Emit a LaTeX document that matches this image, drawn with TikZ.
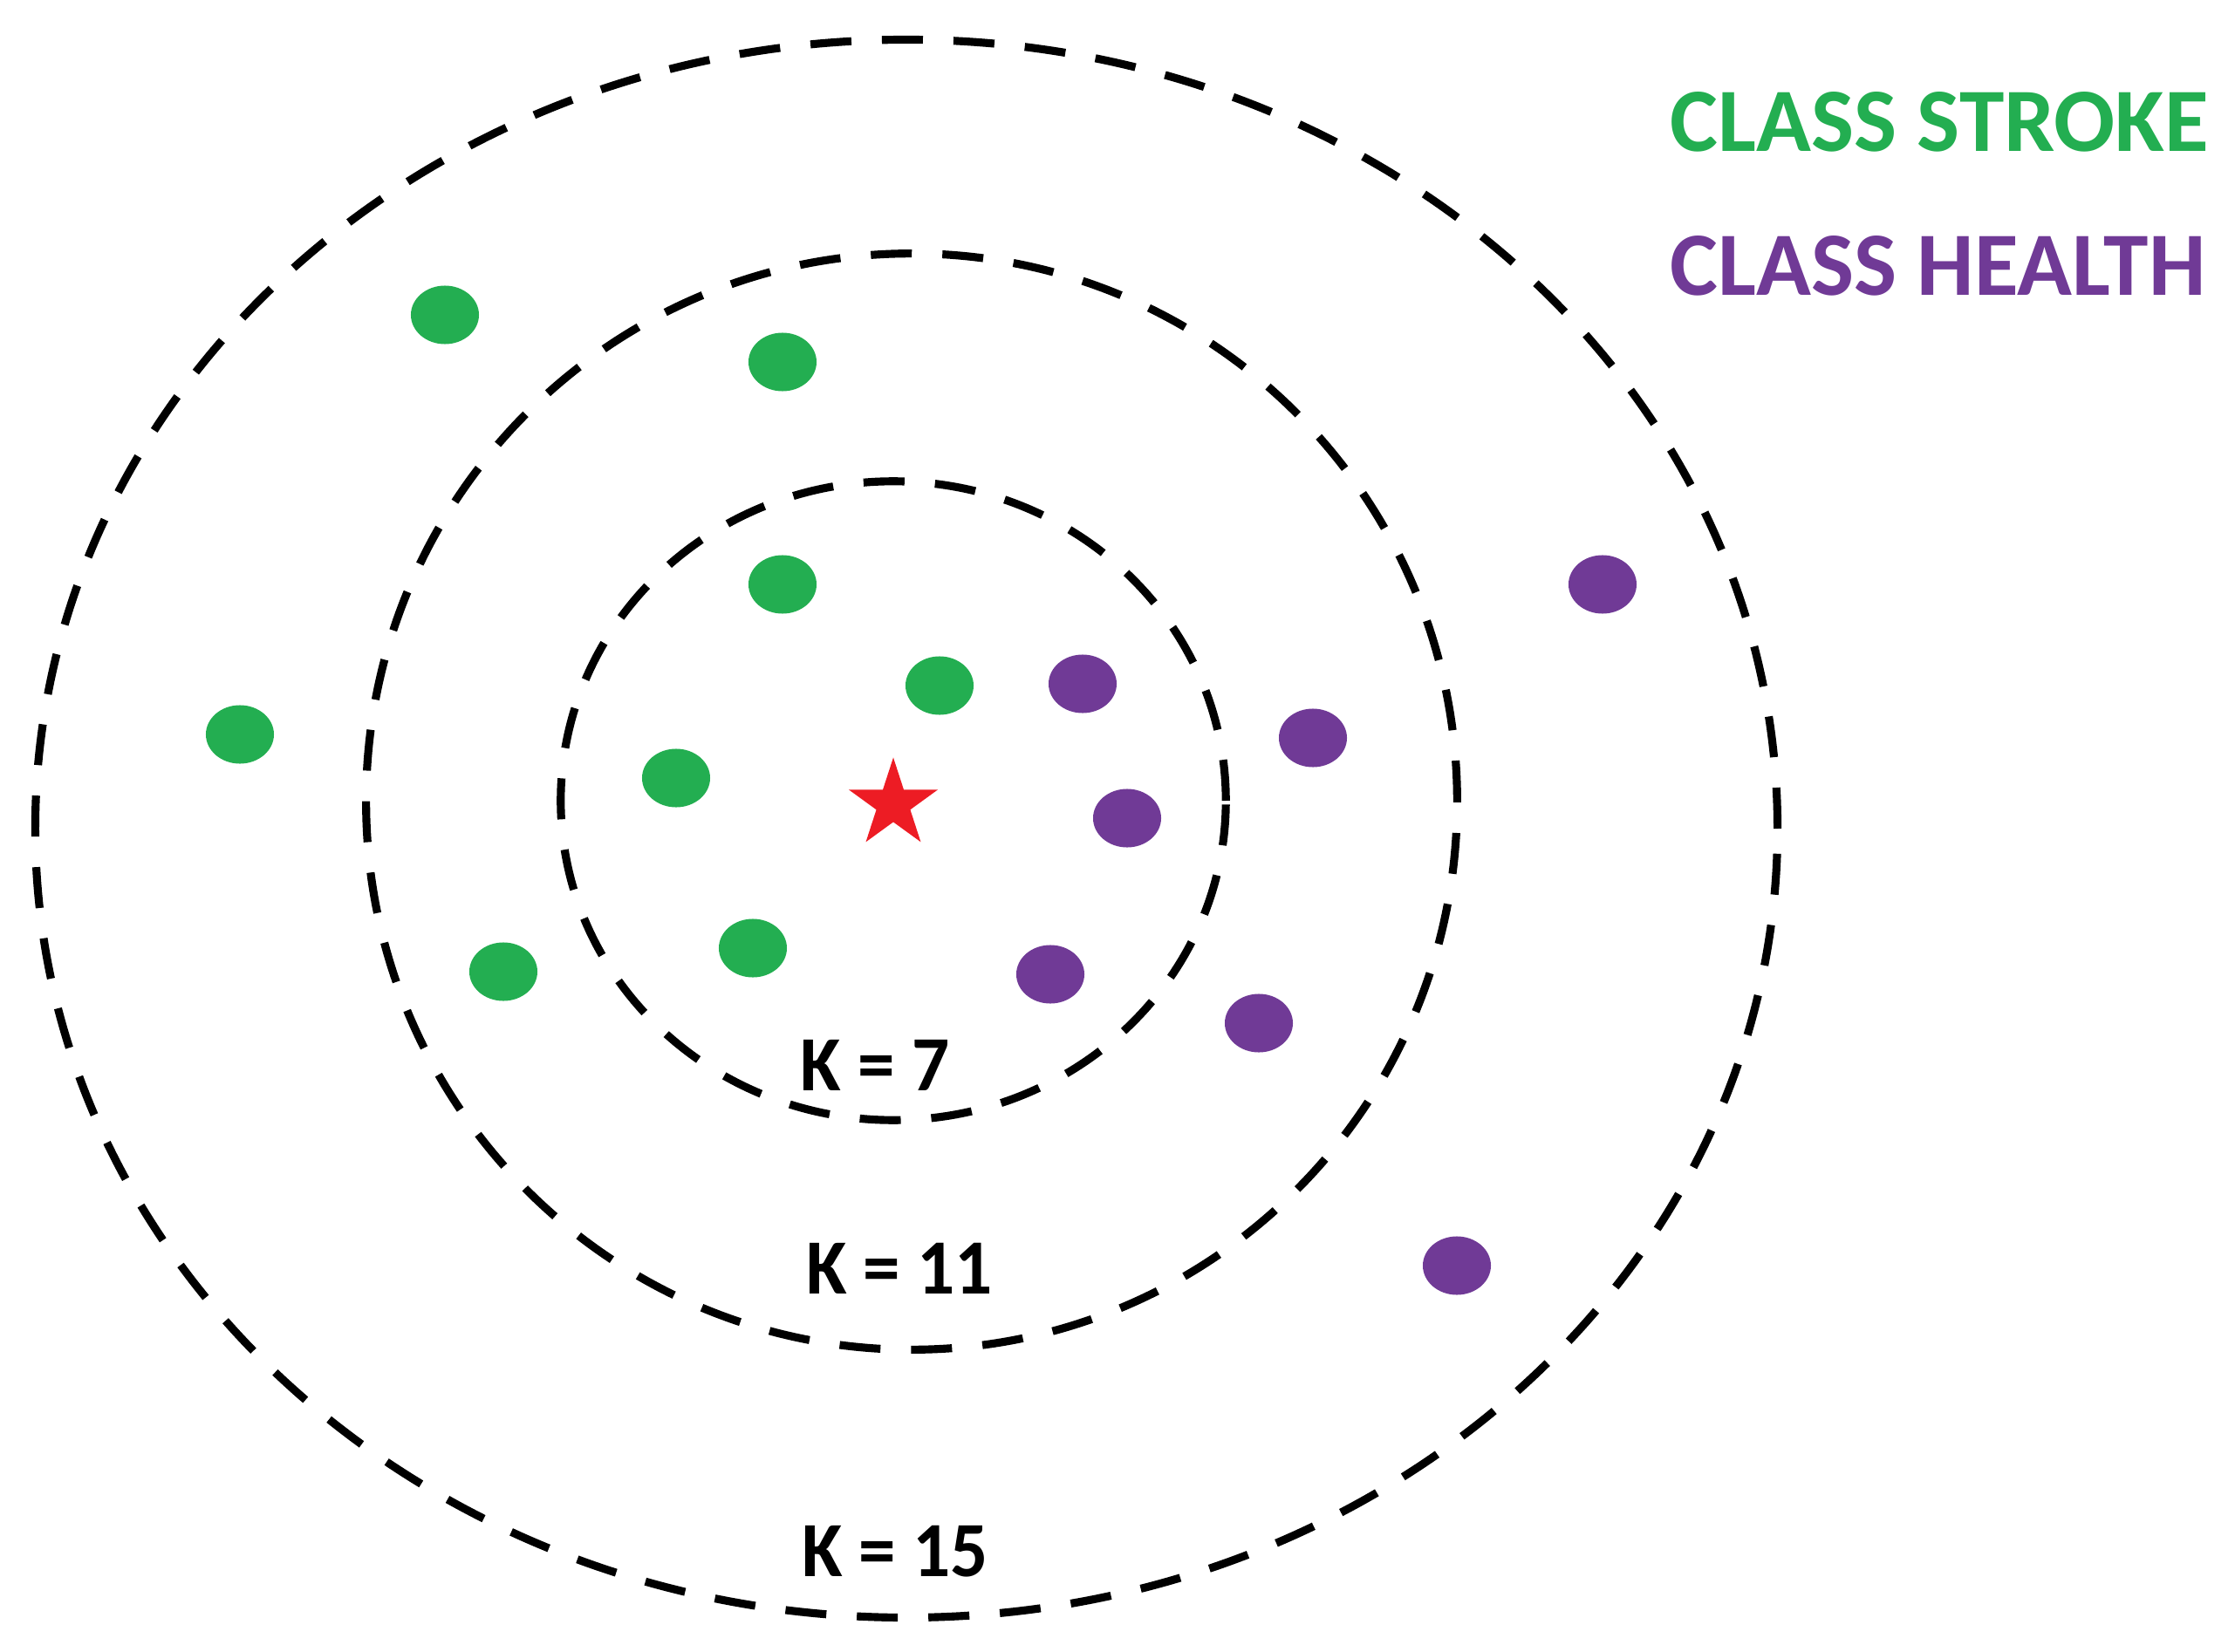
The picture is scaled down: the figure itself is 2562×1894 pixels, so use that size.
\documentclass[tikz,border=0pt]{standalone}
\usepackage{fontspec}
\usepackage{graphicx}
\setmainfont{Carlito}
\usetikzlibrary{shapes.geometric}
\definecolor{strokegreen}{RGB}{35,174,81}
\definecolor{healthpurple}{RGB}{112,58,150}
\definecolor{starred}{RGB}{237,28,36}
\tikzset{
  ring/.style={draw=black, line width=2.6pt, dash pattern=on 0.47cm off 0.35cm, ellipse, inner sep=0pt},
  gdot/.style={fill=strokegreen, ellipse, inner sep=0pt, minimum width=0.78cm, minimum height=0.67cm},
  pdot/.style={fill=healthpurple, ellipse, inner sep=0pt, minimum width=0.78cm, minimum height=0.67cm},
  klabel/.style={inner sep=0pt, font=\fontsize{25.5pt}{30pt}\selectfont\bfseries},
  legend/.style={inner sep=0pt, anchor=west, font=\fontsize{29.5pt}{34pt}\selectfont\bfseries}
}
\newcommand{\kcond}[1]{\scalebox{0.95}[1]{#1}}
\begin{document}
\begin{tikzpicture}[x=0.01cm, y=-0.01cm]
\useasboundingbox (0,0) rectangle (2562,1894);
% rings
\node[ring, minimum width=19.96cm, minimum height=18.08cm] (k15) at (1039,950) {};
\node[ring, minimum width=12.50cm, minimum height=12.56cm] (k11) at (1045,919) {};
\node[ring, minimum width=7.62cm, minimum height=7.32cm] (k7) at (1024,918) {};
% query point
\node[star, star points=5, star point ratio=2.618, fill=starred, inner sep=0pt, minimum size=1.07cm] (q) at (1024,922) {};
% green points
\node[gdot] (g1) at (510,361) {};
\node[gdot] (g2) at (897,415) {};
\node[gdot] (g3) at (897,670) {};
\node[gdot] (g4) at (1077,786) {};
\node[gdot] (g5) at (275,842) {};
\node[gdot] (g6) at (775,892) {};
\node[gdot] (g7) at (577,1114) {};
\node[gdot] (g8) at (863,1087) {};
% purple points
\node[pdot] (p1) at (1837,670) {};
\node[pdot] (p2) at (1241,784) {};
\node[pdot] (p3) at (1505,846) {};
\node[pdot] (p4) at (1292,938) {};
\node[pdot] (p5) at (1204,1117) {};
\node[pdot] (p6) at (1443,1173) {};
\node[pdot] (p7) at (1670,1451) {};
% labels
\node[klabel] (l7) at (1003,1221) {\kcond{K = 7}};
\node[klabel] (l11) at (1031,1454) {\kcond{K = 11}};
\node[klabel] (l15) at (1026,1779) {\kcond{K = 15}};
% legend
\node[legend, text=strokegreen] (ls) at (1914,140) {CLASS STROKE};
\node[legend, text=healthpurple] (lh) at (1914,305) {CLASS HEALTH};
\end{tikzpicture}
\end{document}
